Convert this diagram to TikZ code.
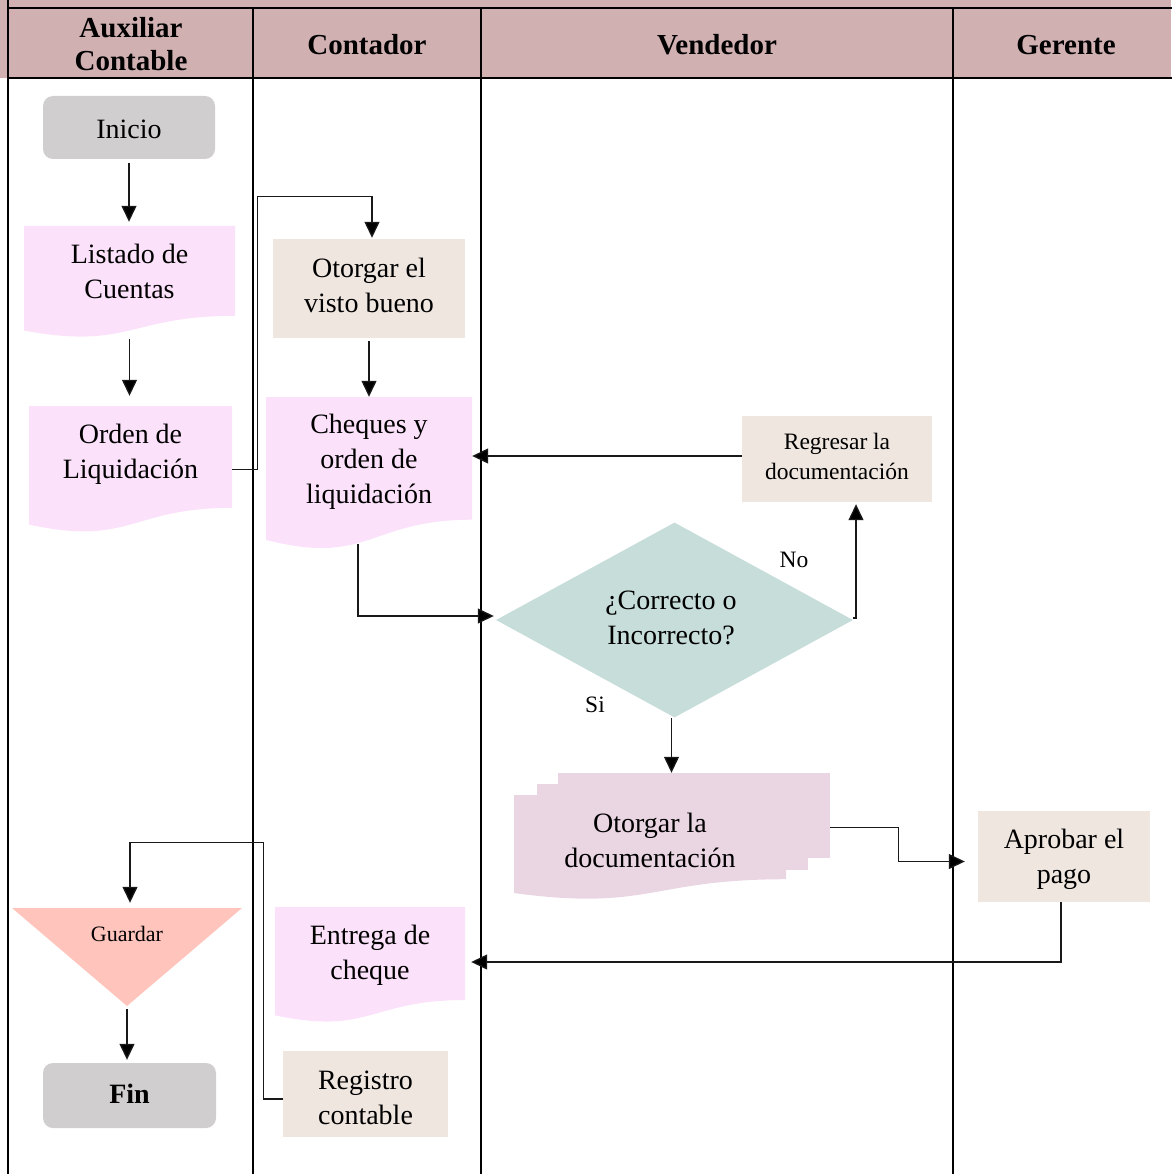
\documentclass[tikz,border=0pt]{standalone}
\usepackage{fontspec}
\setmainfont{Liberation Serif}
\usetikzlibrary{arrows.meta,calc,shapes.geometric}

\definecolor{headbg}{RGB}{209,176,178}
\definecolor{startgray}{RGB}{208,206,206}
\definecolor{docpink}{RGB}{251,226,250}
\definecolor{notebeige}{RGB}{240,230,224}
\definecolor{diateal}{RGB}{199,221,218}
\definecolor{multipink}{RGB}{234,213,226}
\definecolor{keepsalmon}{RGB}{255,196,188}
\definecolor{linegray}{RGB}{25,25,25}

\newcommand\fsBody{\fontsize{28pt}{35pt}\selectfont}
\newcommand\fsSmall{\fontsize{23.5pt}{30pt}\selectfont}
\newcommand\fsTri{\fontsize{22pt}{26pt}\selectfont}
\newcommand\fsHead{\fontsize{29pt}{33pt}\selectfont\bfseries}

\tikzset{
  lane/.style={line width=2.8pt, line cap=rect},
  conn/.style={draw=linegray, line width=1.3pt},
  arr/.style={conn, -{Triangle[length=16pt,width=15pt,fill=black]}},
  head/.style={align=center, font=\fsHead, inner sep=0pt},
  txt/.style={align=center, font=\fsBody, inner sep=0pt},
  lbl/.style={font=\fsSmall, inner sep=0pt},
  terminal/.style={fill=startgray, rounded corners=10pt, inner sep=0pt},
  notebox/.style={fill=notebeige, inner sep=0pt},
  sheet/.style={fill=#1, inner sep=0pt},
  % document symbol: flat top, wavy bottom edge
  docnode/.style={inner sep=0pt, path picture={
    \fill[#1] let \p1=(path picture bounding box.south west),
                  \p2=(path picture bounding box.north east) in
      (\x1,\y2) -- (\x2,\y2) -- (\x2,{\y2-0.802*(\y2-\y1)})
      .. controls ({0.5*\x1+0.5*\x2},{\y2-0.802*(\y2-\y1)})
             and ({0.5*\x1+0.5*\x2},{\y2-1.1075*(\y2-\y1)})
      .. (\x1,{\y2-0.934*(\y2-\y1)}) -- cycle;
  }},
  % store symbol: downward triangle
  storenode/.style={inner sep=0pt, path picture={
    \fill[#1] (path picture bounding box.north west)
      -- (path picture bounding box.north east)
      -- (path picture bounding box.south) -- cycle;
  }},
}

\begin{document}
\begin{tikzpicture}[x=1pt,y=-1pt]
\useasboundingbox (0,0) rectangle (1171,1174);

% swimlane table
\fill[headbg] (0,0) rectangle (1171,78);
\draw[lane] (8,8) -- (1171,8);
\draw[lane] (8,78) -- (1171,78);
\draw[lane] (8,0) -- (8,1174);
\draw[lane] (253,8) -- (253,1174);
\draw[lane] (481,8) -- (481,1174);
\draw[lane] (953,8) -- (953,1174);

\node[head] (h1) at (131,44.5) {Auxiliar\\Contable};
\node[head] (h2) at (367,45) {Contador};
\node[head] (h3) at (717,45) {Vendedor};
\node[head] (h4) at (1066,45) {Gerente};

% Auxiliar Contable
\node[terminal, minimum width=172pt, minimum height=63pt] (ini) at (129,127.5) {};
\node[txt] (ini-t) at (129,129.5) {Inicio};
\node[docnode=docpink, minimum width=211pt, minimum height=112pt] (lc) at (129.5,282) {};
\node[txt] (lc-t) at (129.5,271.5) {Listado de\\Cuentas};
\node[docnode=docpink, minimum width=203pt, minimum height=127pt] (ol) at (130.5,469.5) {};
\node[txt] (ol-t) at (130.5,454.5) {Orden de\\Liquidación};
\node[storenode=keepsalmon, minimum width=230pt, minimum height=98pt] (gu) at (127,957) {};
\node[txt, font=\fsTri] (gu-t) at (127,934) {Guardar};
\node[terminal, minimum width=173pt, minimum height=65pt] (fin) at (129.5,1095.5) {};
\node[txt] (fin-t) at (129.5,1093.5) {\bfseries Fin};

% Contador
\node[notebox, minimum width=192pt, minimum height=99pt] (ov) at (369,288.5) {};
\node[txt] (ov-t) at (369,285) {Otorgar el\\visto bueno};
\node[docnode=docpink, minimum width=206pt, minimum height=153pt] (ch) at (369,473.5) {};
\node[txt] (ch-t) at (369,461.5) {Cheques y\\orden de\\liquidación};
\node[docnode=docpink, minimum width=190pt, minimum height=116pt] (ec) at (370,965) {};
\node[txt] (ec-t) at (370,955.5) {Entrega de\\cheque};
\node[notebox, minimum width=165pt, minimum height=86pt] (rc) at (365.5,1094) {};
\node[txt] (rc-t) at (365.5,1097.5) {Registro\\contable};

% Vendedor
\node[notebox, minimum width=190pt, minimum height=86pt] (rg) at (837,459) {};
\node[txt, font=\fsSmall] (rg-t) at (837,456) {Regresar la\\documentación};
\node[diamond, fill=diateal, inner sep=0pt, aspect=1.83, minimum width=357pt, minimum height=195pt] (dia) at (674.5,620) {};
\node[txt] (dia-t) at (671,618) {¿Correcto o\\Incorrecto?};
\node[sheet=multipink, minimum width=272pt, minimum height=85pt] (od3) at (694,815.5) {};
\node[sheet=multipink, minimum width=271pt, minimum height=86pt] (od2) at (672.5,827) {};
\node[docnode=multipink, minimum width=272pt, minimum height=105pt] (od) at (650,847.5) {};
\node[txt] (od-t) at (650,840.5) {Otorgar la\\documentación};
\node[lbl] (no) at (794,560) {No};
\node[lbl] (si) at (595,705) {Si};

% Gerente
\node[notebox, minimum width=172pt, minimum height=91pt] (ap) at (1064,856.5) {};
\node[txt] (ap-t) at (1064,859.5) {Aprobar el\\pago};

% connectors
\draw[arr, shorten <=4pt, shorten >=4pt] (ini.south) -- (ini.south |- lc.north);
\draw[arr, shorten <=1pt, shorten >=10pt] (lc.south) -- (lc.south |- ol.north);
\draw[arr, shorten >=1pt] (ol.east) -- ++(25,0) |- ([xshift=3pt,yshift=42pt]ov.north) -- ([xshift=3pt]ov.north);
\draw[arr, shorten <=3pt] (ov.south) -- (ov.south |- ch.north);
\draw[arr, shorten >=2pt] ([xshift=-11pt,yshift=6pt]ch.south) |- ([yshift=4pt]dia.west);
\draw[arr] ([yshift=2pt]dia.east) -| ([xshift=19pt,yshift=-2pt]rg.south);
\draw[arr] ([yshift=3pt]rg.west) -- ([yshift=3pt]rg.west -| ch.east);
\draw[arr] ([xshift=-3pt]dia.south) -- ([xshift=-3pt]dia.south |- od3.north);
\draw[arr, shorten >=13pt] ([yshift=-12pt]od3.east) -- ++(68,0) |- ([yshift=-5pt]ap.west);
\draw[arr] ([xshift=-3pt]ap.south) |- ([xshift=6pt,yshift=3pt]ec.east);
\draw[arr, shorten >=5pt] ([yshift=-5pt]rc.west) -- ++(-19,0) |- ([xshift=3pt,yshift=65pt]gu.north) -- ([xshift=3pt]gu.north);
\draw[arr, shorten <=3pt, shorten >=3pt] (gu.south) -- (gu.south |- fin.north);
\end{tikzpicture}
\end{document}
